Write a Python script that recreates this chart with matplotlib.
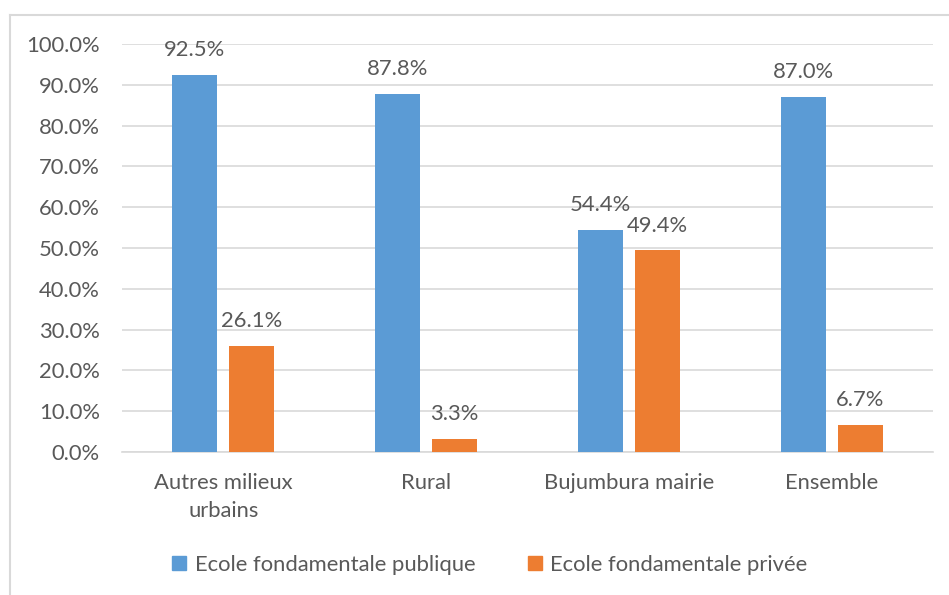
import matplotlib.pyplot as plt
import numpy as np
from matplotlib.patches import Rectangle
from matplotlib.lines import Line2D

plt.rcParams['font.family'] = ['Lato', 'DejaVu Sans']

categories = ["Autres milieux\nurbains", "Rural", "Bujumbura mairie", "Ensemble"]
publique = [92.5, 87.8, 54.4, 87.0]
privee = [26.1, 3.3, 49.4, 6.7]
series_names = ["Ecole fondamentale publique", "Ecole fondamentale privée"]
yticks = [0, 10, 20, 30, 40, 50, 60, 70, 80, 90, 100]

blue = "#5B9BD5"
orange = "#ED7D31"
txt = "#595959"
grid = "#D9D9D9"
fs = 15.8

W, H = 949, 595
fig = plt.figure(figsize=(W / 100, H / 100), dpi=100)
ax = fig.add_axes([122 / W, 1 - 452 / H, (933 - 122) / W, (452 - 44) / H])

x = np.arange(len(categories))
bw = 0.222
off = 0.14
b1 = ax.bar(x - off, publique, bw, color=blue, zorder=3)
b2 = ax.bar(x + off, privee, bw, color=orange, zorder=3)

for bars, vals in ((b1, publique), (b2, privee)):
    for r, v in zip(bars, vals):
        ax.text(r.get_x() + r.get_width() / 2, v + 3.6, f"{v:.1f}%",
                ha="center", va="bottom", fontsize=fs, color=txt)

ax.set_xlim(-0.5, len(categories) - 0.5)
ax.set_ylim(0, 100)
ax.set_yticks(yticks)
ax.set_yticklabels([f"{t:.1f}%" for t in yticks])
ax.set_xticks(x)
ax.set_xticklabels(categories, linespacing=1.5)
ax.tick_params(axis="both", length=0, labelsize=fs, labelcolor=txt)
ax.tick_params(axis="y", pad=16)
ax.tick_params(axis="x", pad=15)
ax.yaxis.grid(True, color=grid, linewidth=1.2, zorder=0)
for s in ["top", "right", "left"]:
    ax.spines[s].set_visible(False)
ax.spines["bottom"].set_color(grid)
ax.spines["bottom"].set_linewidth(1.2)

handles = [Rectangle((0, 0), 1, 1, color=blue), Rectangle((0, 0), 1, 1, color=orange)]
fig.legend(handles, series_names, loc="center", bbox_to_anchor=(490 / W, 1 - 565 / H),
           ncol=2, frameon=False, fontsize=fs, labelcolor=txt,
           handlelength=0.62, handleheight=0.62, handletextpad=0.4, columnspacing=2.4)

# chart border
fig.add_artist(Line2D([10 / W, 10 / W], [0, 1 - 15 / H], color=grid, linewidth=1.5))
fig.add_artist(Line2D([10 / W, 1], [1 - 15 / H, 1 - 15 / H], color=grid, linewidth=1.5))

fig.savefig("out.png", dpi=100)
